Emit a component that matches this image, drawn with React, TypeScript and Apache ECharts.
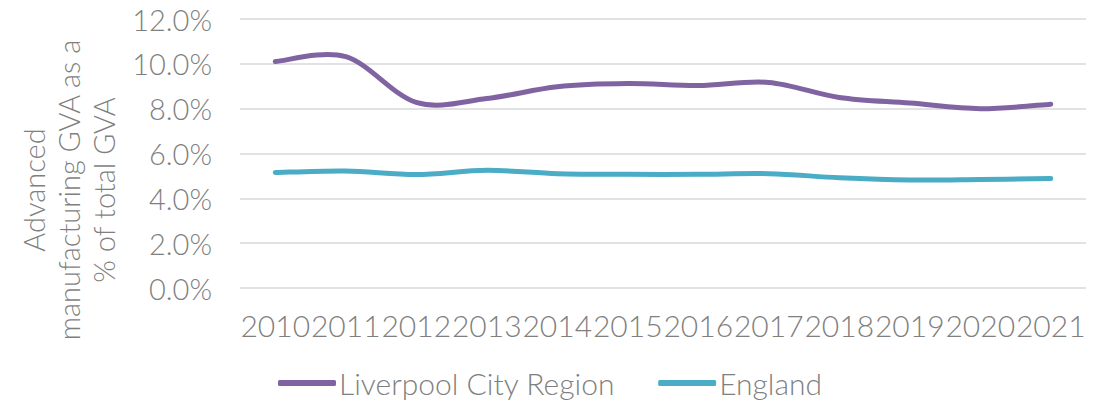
import React, { useEffect, useRef } from "react";
import * as echarts from "echarts";

const years = ["2010", "2011", "2012", "2013", "2014", "2015", "2016", "2017", "2018", "2019", "2020", "2021"];
const liverpool = [10.1, 10.32, 8.28, 8.45, 8.98, 9.12, 9.03, 9.17, 8.5, 8.25, 8.0, 8.2];
const england = [5.15, 5.22, 5.06, 5.25, 5.1, 5.07, 5.07, 5.1, 4.92, 4.82, 4.84, 4.88];
const yTitle = "Advanced\nmanufacturing GVA as a\n% of total GVA";

const FONT = "Lato, 'Noto Sans', sans-serif";
const GRAY = "#7f7f7f";
const PURPLE = "#8064a2";
const TEAL = "#4bacc6";

// Excel-like (Catmull-Rom) smoothed path through points given by the chart's own coordinate system
function smoothPath(pts: number[][]): string {
  let d = `M${pts[0][0]},${pts[0][1]}`;
  for (let i = 0; i < pts.length - 1; i++) {
    const p0 = pts[Math.max(0, i - 1)];
    const p1 = pts[i];
    const p2 = pts[i + 1];
    const p3 = pts[Math.min(pts.length - 1, i + 2)];
    const c1x = p1[0] + (p2[0] - p0[0]) / 6;
    const c1y = p1[1] + (p2[1] - p0[1]) / 6;
    const c2x = p2[0] - (p3[0] - p1[0]) / 6;
    const c2y = p2[1] - (p3[1] - p1[1]) / 6;
    d += ` C${c1x},${c1y} ${c2x},${c2y} ${p2[0]},${p2[1]}`;
  }
  return d;
}

function lineSeries(name: string, values: number[], color: string) {
  return {
    name,
    type: "custom",
    data: values.map((v, i) => [i, v]),
    encode: { x: 0, y: 1 },
    itemStyle: { color },
    renderItem: (params: any, api: any) => {
      if (params.dataIndex !== 0) return null;
      const pts = values.map((v, i) => api.coord([i, v]));
      return {
        type: "path",
        shape: { pathData: smoothPath(pts) },
        style: { fill: "none", stroke: color, lineWidth: 5, lineCap: "round", lineJoin: "round" },
        silent: true,
      };
    },
  };
}

export default function App() {
  const ref = useRef<HTMLDivElement>(null);
  useEffect(() => {
    if (!ref.current) return;
    const chart = echarts.init(ref.current, null, { renderer: "svg" });
    chart.setOption({
      animation: false,
      backgroundColor: "#ffffff",
      grid: { left: 240, right: 18, top: 19, bottom: 116, containLabel: false },
      legend: {
        left: 273,
        top: 363,
        itemWidth: 58,
        itemHeight: 6,
        itemGap: 43,
        icon: "roundRect",
        textStyle: { color: GRAY, fontSize: 30, fontWeight: 300, fontFamily: FONT, padding: [0, 0, 0, -2] },
        data: [
          { name: "Liverpool City Region", itemStyle: { color: PURPLE } },
          { name: "England", itemStyle: { color: TEAL } },
        ],
      },
      xAxis: {
        type: "category",
        data: years,
        boundaryGap: true,
        axisLine: { show: false },
        axisTick: { show: false },
        axisLabel: { interval: 0, color: GRAY, fontSize: 30, fontWeight: 300, fontFamily: FONT, margin: 22 },
      },
      yAxis: {
        type: "value",
        min: 0,
        max: 12,
        interval: 2,
        axisLine: { show: false },
        axisTick: { show: false },
        splitLine: { lineStyle: { color: "#d9d9d9", width: 1.5 } },
        axisLabel: {
          color: GRAY,
          fontSize: 29,
          fontWeight: 300,
          fontFamily: FONT,
          margin: 28,
          formatter: (v: number) => v.toFixed(1) + "%",
        },
      },
      graphic: [
        {
          type: "text",
          x: 68,
          y: 190,
          rotation: Math.PI / 2,
          style: {
            text: yTitle,
            align: "center",
            verticalAlign: "middle",
            fill: GRAY,
            fontSize: 29,
            fontWeight: 300,
            fontFamily: FONT,
            lineHeight: 35,
          },
        },
      ],
      series: [
        lineSeries("Liverpool City Region", liverpool, PURPLE),
        lineSeries("England", england, TEAL),
      ],
    });
    return () => chart.dispose();
  }, []);
  return (
    <div
      ref={ref}
      style={{ position: "fixed", left: 0, top: 0, width: 1104, height: 404 }}
    />
  );
}
